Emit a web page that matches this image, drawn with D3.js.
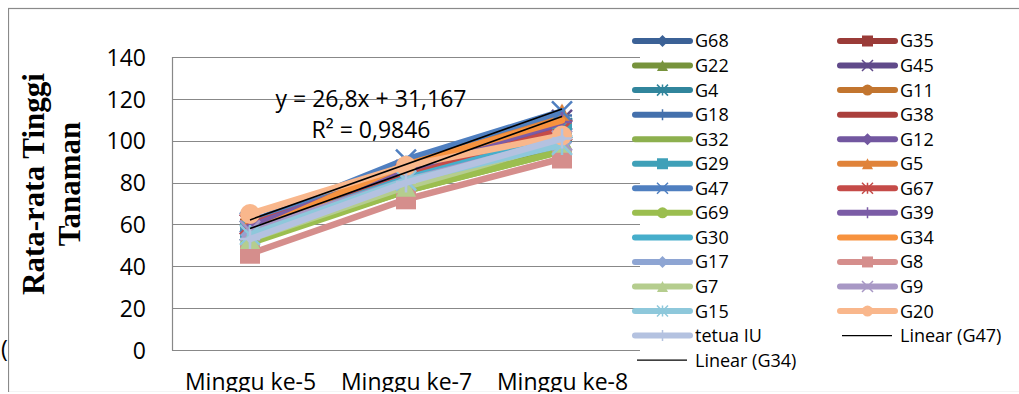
<!DOCTYPE html>
<html>
<head>
<meta charset="utf-8">
<script src="https://cdn.jsdelivr.net/npm/d3@7"></script>
<style>
  body { margin: 0; background: #fff; }
  svg { display: block; }
</style>
</head>
<body>
<div id="chart"></div>
<script>
// categories (x axis)
var weeks = ["Minggu ke-5", "Minggu ke-7", "Minggu ke-8"];

// series names, in legend / drawing order
var names = ["G68", "G35", "G22", "G45", "G4", "G11", "G18", "G38", "G32", "G12",
  "G29", "G5", "G47", "G67", "G69", "G39", "G30", "G34", "G17", "G8",
  "G7", "G9", "G15", "G20", "tetua IU"];

// average plant height per week, one row per series
var values = [
  [59, 86, 107],    // G68
  [58, 84, 104],    // G35
  [53, 78, 98],     // G22
  [60, 86, 110],    // G45
  [57, 84, 106],    // G4
  [61, 85, 108],    // G11
  [59, 88, 112],    // G18
  [58, 83, 105],    // G38
  [52, 76, 95],     // G32
  [58, 85, 108],    // G12
  [57, 82, 104],    // G29
  [61, 87, 113],    // G5
  [61, 91, 114],    // G47
  [60, 84, 105],    // G67
  [51, 76, 95],     // G69
  [59, 86, 109],    // G39
  [56, 82, 102],    // G30
  [56.1, 88.6, 109.7], // G34
  [55, 80, 99],     // G17
  [46, 72, 91.5],   // G8
  [53, 78, 99],     // G7
  [57, 81, 100],    // G9
  [55, 81, 98],     // G15
  [65, 88, 102.5],  // G20
  [53, 80, 101]     // tetua IU
];

var colors = ["#3b6196", "#9a3b38", "#77933c", "#604a8a", "#31859c", "#c2752f", "#4470ac",
  "#aa3f3c", "#8db04e", "#7257a0", "#3fa0b8", "#e0833a", "#4f7fc0", "#c54b48",
  "#9bbe4f", "#7b5ca6", "#46aecb", "#f7923e", "#8ea5d3", "#d58e8c", "#b5cd8e",
  "#a898c5", "#8ec8db", "#f9b78c", "#b4c2e0"];

var markers = ["diamond", "square", "triangle", "x", "star", "circle", "plus", "none", "none",
  "diamond", "square", "triangle", "x", "star", "circle", "plus", "none", "none",
  "diamond", "square", "triangle", "x", "star", "circle", "plus"];

var yTicks = [0, 20, 40, 60, 80, 100, 120, 140];
var trendSeries = ["G47", "G34"];
var equation = ["y = 26,8x + 31,167", "R² = 0,9846"];

var W = 1019, H = 394;
var plot = { left: 172, right: 640, top: 57, bottom: 350 };

var svg = d3.select("#chart").append("svg")
  .attr("width", W)
  .attr("height", H)
  .style("font-family", "'Open Sans', sans-serif");

svg.append("defs").append("clipPath").attr("id", "page")
  .append("rect").attr("x", 8).attr("y", 0).attr("width", W).attr("height", 392);

// stray bracket from the surrounding document
svg.append("text").attr("x", 1).attr("y", 357)
  .style("font-size", "23px").text("(");

var root = svg.append("g").attr("clip-path", "url(#page)");
root.append("rect").attr("x", 8.5).attr("y", 8.5).attr("width", W + 20).attr("height", 384)
  .attr("fill", "#fff").attr("stroke", "#8a8a8a").attr("stroke-width", 1.2);

var x = d3.scalePoint().domain(weeks).range([plot.left, plot.right]).padding(0.5);
var y = d3.scaleLinear().domain([0, 140]).range([plot.bottom, plot.top]);

// gridlines
root.append("g").selectAll("line").data(yTicks).enter().append("line")
  .attr("x1", plot.left).attr("x2", plot.right)
  .attr("y1", function(d) { return Math.round(y(d)) + 0.5; })
  .attr("y2", function(d) { return Math.round(y(d)) + 0.5; })
  .attr("stroke", "#888").attr("stroke-width", 1.2);
root.append("line")
  .attr("x1", plot.left + 0.5).attr("x2", plot.left + 0.5)
  .attr("y1", plot.top).attr("y2", plot.bottom + 0.5)
  .attr("stroke", "#888").attr("stroke-width", 1.2);

// y axis labels
var yAxis = root.append("g").attr("transform", "translate(" + plot.left + ",0)")
  .call(d3.axisLeft(y).tickValues(yTicks).tickSize(0).tickPadding(26));
yAxis.select(".domain").remove();
yAxis.selectAll("text").style("font-size", "23px").style("font-family", "'Open Sans', sans-serif")
  .attr("fill", "#000").attr("dy", "0.36em");

// x axis labels
var xAxis = root.append("g").attr("transform", "translate(0," + plot.bottom + ")")
  .call(d3.axisBottom(x).tickSize(0).tickPadding(24));
xAxis.select(".domain").remove();
xAxis.selectAll("text").style("font-size", "23px").style("font-family", "'Open Sans', sans-serif")
  .attr("fill", "#000");

// y axis title
var title = root.append("g").style("font-family", "'Liberation Serif', serif")
  .style("font-weight", "bold").style("font-size", "31px").attr("text-anchor", "middle");
title.append("text").attr("transform", "translate(44,184) rotate(-90)").text("Rata-rata Tinggi");
title.append("text").attr("transform", "translate(80,184) rotate(-90)").text("Tanaman");

// marker shapes
function markerPath(type, r) {
  if (type == "diamond") return "M0," + (-r) + "L" + r + ",0L0," + r + "L" + (-r) + ",0Z";
  if (type == "square") return "M" + (-r) + "," + (-r) + "h" + 2 * r + "v" + 2 * r + "h" + (-2 * r) + "Z";
  if (type == "triangle") return "M0," + (-r) + "L" + r + "," + r + "L" + (-r) + "," + r + "Z";
  if (type == "circle") return "M" + r + ",0A" + r + "," + r + " 0 1,1 " + (-r) + ",0A" + r + "," + r + " 0 1,1 " + r + ",0Z";
  if (type == "x") return "M" + (-r) + "," + (-r) + "L" + r + "," + r + "M" + r + "," + (-r) + "L" + (-r) + "," + r;
  if (type == "plus") return "M0," + (-r) + "V" + r + "M" + (-r) + ",0H" + r;
  if (type == "star") return "M" + (-r) + "," + (-r) + "L" + r + "," + r + "M" + r + "," + (-r) + "L" + (-r) + "," + r + "M0," + (-r) + "V" + r;
  return "";
}
function isOpen(type) { return type == "x" || type == "plus" || type == "star"; }

var line = d3.line()
  .x(function(d, i) { return x(weeks[i]); })
  .y(function(d) { return y(d); });

// series lines + markers
var series = root.append("g").selectAll("g").data(names).enter().append("g");
series.append("path")
  .attr("d", function(d, i) { return line(values[i]); })
  .attr("fill", "none")
  .attr("stroke", function(d, i) { return colors[i]; })
  .attr("stroke-width", 6.5)
  .attr("stroke-linecap", "round")
  .attr("stroke-linejoin", "round");
series.each(function(name, i) {
  var m = markers[i];
  if (m == "none") return;
  d3.select(this).selectAll("path.mk").data(values[i]).enter().append("path")
    .attr("class", "mk")
    .attr("transform", function(v, j) { return "translate(" + x(weeks[j]) + "," + y(v) + ")"; })
    .attr("d", markerPath(m, isOpen(m) ? 10 : (m == "circle" ? 10 : 10)))
    .attr("fill", isOpen(m) ? "none" : colors[i])
    .attr("stroke", colors[i])
    .attr("stroke-width", isOpen(m) ? 2.5 : 0);
});

// linear trendlines (least squares on x = 1..3)
trendSeries.forEach(function(name) {
  var v = values[names.indexOf(name)];
  var xs = [1, 2, 3];
  var mx = d3.mean(xs), my = d3.mean(v);
  var slope = d3.sum(xs, function(t, k) { return (t - mx) * (v[k] - my); }) /
    d3.sum(xs, function(t) { return (t - mx) * (t - mx); });
  var icpt = my - slope * mx;
  root.append("line")
    .attr("x1", x(weeks[0])).attr("y1", y(icpt + slope))
    .attr("x2", x(weeks[2])).attr("y2", y(icpt + slope * 3))
    .attr("stroke", "#000").attr("stroke-width", 1.6);
});

// trendline label
root.append("g").attr("text-anchor", "middle").style("font-size", "23px")
  .selectAll("text").data(equation).enter().append("text")
  .attr("x", 371).attr("y", function(d, i) { return 107 + i * 31; })
  .text(function(d) { return d; });

// legend, two columns filled row by row
var legendItems = names.map(function(n, i) { return { name: n, color: colors[i], marker: markers[i], trend: false }; });
legendItems.push({ name: "Linear (G47)", color: "#000", marker: "none", trend: true });
legendItems.push({ name: "Linear (G34)", color: "#000", marker: "none", trend: true });

var colX = [635, 840];
var legend = root.append("g").style("font-size", "18px");
var item = legend.selectAll("g").data(legendItems).enter().append("g")
  .attr("transform", function(d, i) {
    return "translate(" + colX[i % 2] + "," + (41 + Math.floor(i / 2) * 24.55) + ")";
  });
item.append("line")
  .attr("x1", function(d) { return d.trend ? 2 : 0; })
  .attr("x2", function(d) { return d.trend ? 52 : 55; })
  .attr("stroke", function(d) { return d.color; })
  .attr("stroke-width", function(d) { return d.trend ? 1.4 : 6; })
  .attr("stroke-linecap", function(d) { return d.trend ? "butt" : "round"; });
item.filter(function(d) { return d.marker != "none"; }).append("path")
  .attr("transform", "translate(27.5,0)")
  .attr("d", function(d) {
    if (d.marker == "diamond") return markerPath("diamond", 6);
    if (d.marker == "circle") return markerPath("circle", 5.5);
    return markerPath(d.marker, 5.5);
  })
  .attr("fill", function(d) { return isOpen(d.marker) ? "none" : d.color; })
  .attr("stroke", function(d) { return d.color; })
  .attr("stroke-width", function(d) { return isOpen(d.marker) ? 1.5 : 0; });
item.append("text")
  .attr("x", 60).attr("dy", "0.36em")
  .text(function(d) { return d.name; });
</script>
</body>
</html>
